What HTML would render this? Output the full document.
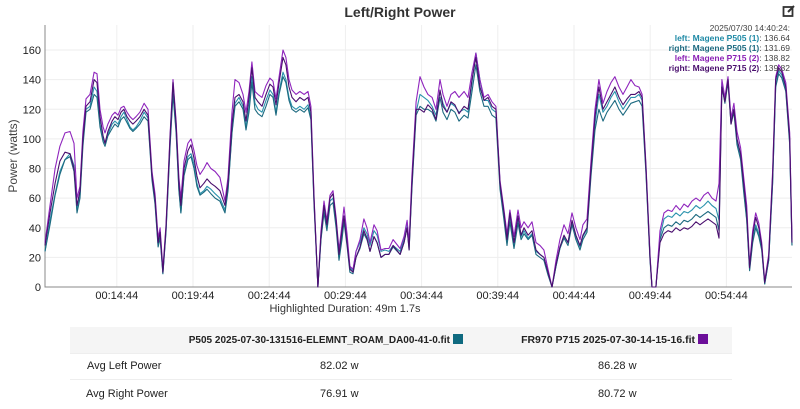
<!DOCTYPE html>
<html><head><meta charset="utf-8">
<style>
body{margin:0;width:800px;height:409px;background:#fff;font-family:"Liberation Sans",sans-serif;overflow:hidden;position:relative}
.t{position:absolute}
.c{position:absolute;font-size:11px;color:#222;white-space:nowrap}
.sw{display:inline-block;width:10px;height:10px;vertical-align:-1px;margin-left:3px}
</style></head><body>
<div class="t" style="left:0;width:800px;top:4px;text-align:center;font-weight:bold;font-size:14px;color:#333">Left/Right Power</div>
<svg class="t" style="left:782px;top:4px" width="14" height="14" viewBox="0 0 14 14"><rect x="1.5" y="3" width="9" height="9" fill="none" stroke="#333" stroke-width="1.8"/><path d="M6 8 L12 2" stroke="#333" stroke-width="2"/></svg>
<svg id="chart" class="t" style="left:0;top:0" width="800" height="320"></svg>
<div class="t" style="left:245px;width:200px;top:303px;text-align:center;font-size:11px;color:#333">Highlighted Duration: 49m 1.7s</div>
<div class="t" style="right:10px;top:23px;text-align:right;font-size:8.5px;line-height:10px;color:#444">
<div>2025/07/30 14:40:24:</div>
<div><b style="color:#1f8aa6">left: Magene P505 (1)</b>: 136.64</div>
<div><b style="color:#1d6a80">right: Magene P505 (1)</b>: 131.69</div>
<div><b style="color:#8a1fb5">left: Magene P715 (2)</b>: 138.82</div>
<div><b style="color:#4a0f6e">right: Magene P715 (2)</b>: 139.82</div>
</div>
<div class="t" style="left:0;top:0;width:800px;height:409px">
<div class="t" style="left:70px;top:327px;width:662px;height:26px;background:#f5f5f5;border-bottom:1px solid #eee"></div>
<div class="c" style="right:337px;top:334px;font-weight:bold;font-size:10px">P505 2025-07-30-131516-ELEMNT_ROAM_DA00-41-0.fit<span class="sw" style="background:#0f6a80"></span></div>
<div class="c" style="right:92px;top:334px;font-weight:bold;font-size:10.5px">FR970 P715 2025-07-30-14-15-16.fit<span class="sw" style="background:#6c0f9a"></span></div>
<div class="t" style="left:70px;top:379px;width:662px;height:1px;background:#eee"></div>
<div class="c" style="left:87px;top:360px">Avg Left Power</div>
<div class="c" style="left:320px;top:360px">82.02 w</div>
<div class="c" style="left:598px;top:360px">86.28 w</div>
<div class="c" style="left:86px;top:388px">Avg Right Power</div>
<div class="c" style="left:320px;top:388px">76.91 w</div>
<div class="c" style="left:598px;top:388px">80.72 w</div>
</div>
<script>
const times=[10.02,10.35,10.68,11.0,11.33,11.66,11.92,12.12,12.32,12.51,12.71,12.97,13.24,13.43,13.63,13.83,13.96,14.15,14.42,14.61,14.81,15.01,15.2,15.4,15.6,15.79,15.99,16.25,16.52,16.78,17.04,17.24,17.44,17.57,17.76,17.96,18.22,18.42,18.62,18.81,18.94,19.14,19.4,19.6,19.8,19.99,20.19,20.45,20.65,20.91,21.18,21.5,21.83,22.03,22.29,22.49,22.75,23.01,23.21,23.41,23.6,23.8,24.0,24.26,24.52,24.78,24.98,25.18,25.38,25.64,25.83,26.03,26.23,26.49,26.75,27.02,27.28,27.47,27.67,27.93,28.13,28.33,28.52,28.72,28.92,29.12,29.31,29.51,29.64,29.84,30.03,30.23,30.43,30.69,30.95,31.15,31.35,31.61,31.81,32.07,32.33,32.59,32.86,33.32,33.58,33.78,33.91,34.1,34.37,34.63,34.89,35.15,35.42,35.68,35.94,36.14,36.4,36.66,36.92,37.19,37.52,37.78,38.04,38.3,38.56,38.83,39.09,39.35,39.61,39.88,40.14,40.34,40.53,40.8,41.06,41.26,41.45,41.72,41.98,42.24,42.5,42.76,43.03,43.29,43.55,43.81,44.08,44.34,44.6,44.86,45.13,45.32,45.59,45.85,46.11,46.37,46.64,46.9,47.16,47.42,47.69,47.95,48.21,48.47,48.74,49.0,49.2,49.46,49.72,49.85,50.11,50.38,50.64,50.9,51.16,51.43,51.69,51.95,52.21,52.48,52.74,53.0,53.26,53.53,53.79,54.05,54.25,54.44,54.64,54.84,55.04,55.23,55.43,55.67,55.87,56.07,56.26,56.46,56.66,56.86,57.05,57.25,57.51,57.77,57.97,58.17,58.37,58.63,58.89,59.04];
const rightP715=[28,50,70,85,91,90,80,55,65,100,122,125,140,138,115,102,97,105,112,115,113,118,120,115,112,110,112,115,120,116,75,60,30,37,10,40,100,138,110,70,55,80,92,96,87,75,67,70,73,70,68,65,55,70,110,128,130,125,112,128,148,128,125,122,130,137,135,123,138,155,150,135,128,125,128,126,128,118,60,0,35,55,42,60,63,45,22,38,48,30,12,10,20,27,38,33,24,34,30,20,22,22,28,22,30,40,25,70,120,120,118,123,120,113,133,122,118,125,123,117,122,120,140,155,135,126,128,122,120,70,50,32,50,30,48,35,40,35,38,25,22,20,10,0,15,27,35,30,45,35,28,35,40,80,115,135,120,125,130,135,128,123,127,130,130,132,128,80,20,0,0,30,36,38,37,40,38,40,39,41,44,42,44,46,44,42,33,135,125,140,110,120,100,90,70,50,13,35,47,40,28,3,20,75,140,148,145,135,100,30,25];
const leftP715=[30,55,80,95,104,105,97,60,68,105,127,130,145,144,120,108,104,110,116,118,116,121,122,118,115,113,115,118,124,120,78,63,33,40,12,42,102,140,112,74,60,85,97,100,92,82,76,80,84,80,78,74,58,74,118,140,138,130,118,132,152,132,130,128,136,141,139,127,142,160,155,140,133,130,132,130,132,122,62,0,38,58,45,62,65,47,25,42,54,36,14,12,24,32,46,40,30,42,38,25,26,26,32,26,34,45,30,75,125,142,135,130,128,120,140,130,122,130,132,128,132,128,145,158,140,128,130,125,122,72,52,36,52,34,52,40,44,40,44,30,28,25,12,0,18,32,42,36,50,40,32,42,46,85,120,140,124,132,138,142,135,130,135,140,136,135,130,82,22,0,0,38,50,52,51,55,52,56,54,58,60,58,62,64,60,58,70,140,128,142,114,124,105,94,74,55,15,38,50,43,30,4,22,78,142,150,147,138,104,32,26];
const leftP505=[24,45,63,78,86,90,82,52,62,98,120,122,135,132,110,100,97,103,110,112,110,115,118,113,108,106,108,112,118,114,74,58,28,34,9,38,96,132,106,66,50,76,88,90,83,70,63,65,68,66,63,60,52,66,105,124,128,122,108,122,142,124,120,118,126,133,130,118,132,145,140,128,122,120,122,120,123,115,58,0,33,52,40,58,60,43,20,36,47,32,13,11,24,30,40,36,28,38,35,24,25,24,28,24,32,44,28,68,118,130,128,126,122,116,132,124,118,124,122,118,120,118,138,158,140,126,126,120,118,70,48,30,48,28,46,34,38,33,36,24,22,20,9,0,14,26,34,30,44,34,27,34,39,78,110,130,118,122,128,132,125,120,124,128,128,130,126,78,20,0,0,34,46,48,47,50,48,51,50,52,55,53,55,58,55,53,45,138,126,140,112,120,98,88,66,46,12,32,42,36,26,2,18,70,136,146,143,133,98,28,24];
const rightP505=[24,42,62,76,86,88,78,50,60,95,118,120,130,128,108,98,95,102,107,110,108,113,115,111,107,105,107,110,115,112,72,56,27,33,9,37,94,130,104,65,50,75,86,88,80,68,62,64,66,63,60,58,50,65,104,122,125,120,106,118,138,120,117,115,122,130,128,116,130,142,138,126,120,118,120,118,121,113,56,0,32,50,38,55,57,40,18,32,44,28,10,9,20,26,36,32,24,34,30,20,22,22,27,22,30,40,25,66,116,122,120,120,118,112,128,118,113,120,118,112,116,114,132,150,132,122,122,116,114,66,45,28,44,26,43,32,36,32,35,22,20,18,8,0,14,26,33,28,42,32,25,32,37,75,106,120,112,118,122,126,120,116,120,124,125,126,122,76,18,0,0,32,40,42,41,44,42,45,44,46,49,47,49,51,49,47,38,136,124,138,110,118,96,86,64,45,11,30,40,34,25,2,18,70,135,144,141,132,96,28,23];
const yTicks=[0,20,40,60,80,100,120,140,160];
const xTickLabels=["00:14:44","00:19:44","00:24:44","00:29:44","00:34:44","00:39:44","00:44:44","00:49:44","00:54:44"];
const xTickTimes=[14.733,19.733,24.733,29.733,34.733,39.733,44.733,49.733,54.733];
const svg=document.getElementById('chart');const NS='http://www.w3.org/2000/svg';
const X0=45,X1=792,Y0=287,Y1=50,tMin=10.02,tMax=59.04;
const xs=t=>X0+(t-tMin)/(tMax-tMin)*(X1-X0);
const ys=v=>Y0-v/160*(Y0-Y1);
function mk(tag,attrs){const e=document.createElementNS(NS,tag);for(const k in attrs)e.setAttribute(k,attrs[k]);svg.appendChild(e);return e;}
yTicks.forEach(v=>{const g=mk('line',{x1:X0,x2:X1,y1:ys(v),y2:ys(v),stroke:'#eee'});


const t=mk('text',{x:41,y:ys(v)+4,'text-anchor':'end','font-size':11,fill:'#222','font-family':'Liberation Sans'});t.textContent=v;

});
xTickTimes.forEach((tt,i)=>{const g=mk('line',{x1:xs(tt),x2:xs(tt),y1:25,y2:Y0,stroke:'#eee'});


const t=mk('text',{x:xs(tt),y:299,'text-anchor':'middle','font-size':11,fill:'#222','font-family':'Liberation Sans'});t.textContent=xTickLabels[i];

});
const ax=mk('path',{d:`M${X0} 25 V${Y0} H${X1}`,stroke:'#888',fill:'none'});


const yt=mk('text',{x:0,y:0,transform:'translate(17,156) rotate(-90)','text-anchor':'middle','font-size':12,fill:'#444','font-family':'Liberation Sans'});yt.textContent='Power (watts)';


const series=[[leftP505,'#2a93ad','line-left-p505'],[rightP505,'#1d6a80','line-right-p505'],[leftP715,'#8f25bd','line-left-p715'],[rightP715,'#4a0f6e','line-right-p715']];
series.forEach(s=>{const d=s[0].map((v,i)=>(i?'L':'M')+xs(times[i]).toFixed(1)+' '+ys(v).toFixed(1)).join('');
const p=mk('path',{d:d,stroke:s[1],fill:'none','stroke-width':1.1,'stroke-linejoin':'round'});

});
</script>
</body></html>
